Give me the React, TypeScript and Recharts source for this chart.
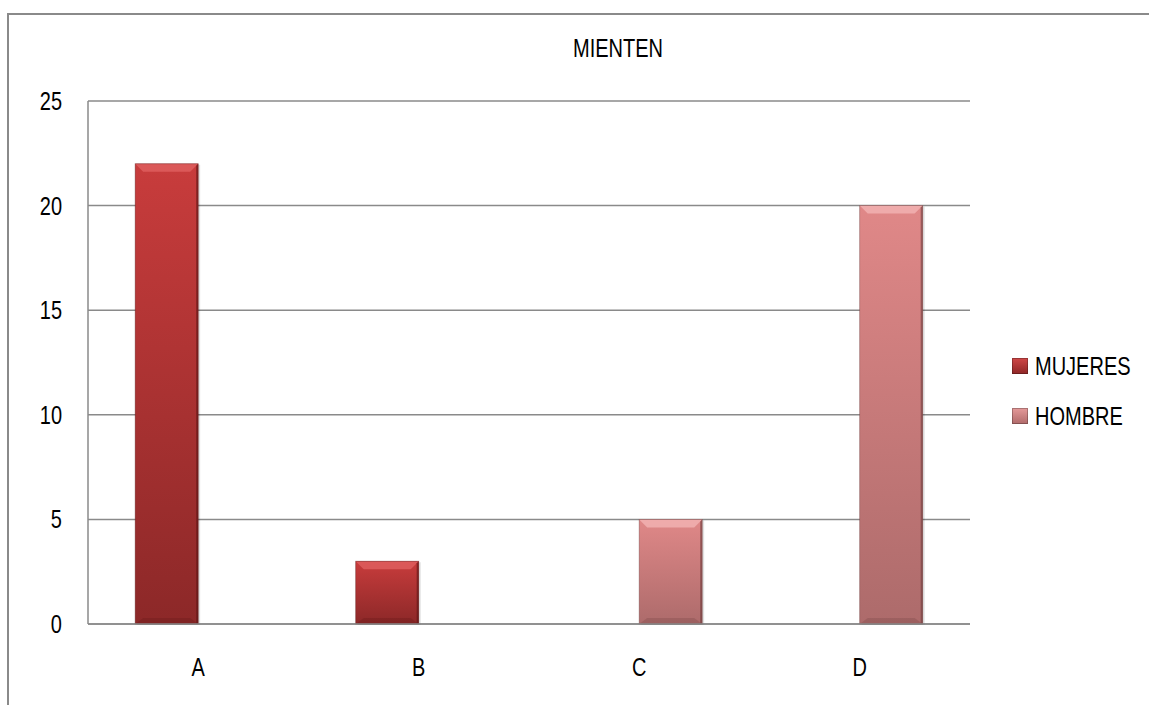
import React from "react";
import { BarChart, Bar, XAxis, YAxis, CartesianGrid } from "recharts";

const categories = ["A", "B", "C", "D"];
const mujeres = [22, 3, 0, 0];
const hombre = [0, 0, 5, 20];
const yTicks = [0, 5, 10, 15, 20, 25];
const seriesNames = ["MUJERES", "HOMBRE"];
const title = "MIENTEN";

const data = categories.map((c, i) => ({ cat: c, mujeres: mujeres[i], hombre: hombre[i] }));

const FONT = "'Liberation Sans', Arial, sans-serif";
const FS = 25;
const SX = 0.8;

const BevelBar = (props: any) => {
  const { x, y, width, height, fill, light, dark } = props;
  if (!height || height <= 0) return null;
  const b = Math.min(8, height / 2, width / 2);
  const bb = Math.min(6, height / 3);
  return (
    <g>
      <rect x={x + 2} y={y + 1} width={width} height={height} fill="rgba(0,0,0,0.12)" />
      <rect x={x} y={y} width={width} height={height} fill={fill} />
      <polygon points={`${x},${y} ${x + width},${y} ${x + width - b},${y + b} ${x + b},${y + b}`} fill={light} opacity={0.8} />
      <polygon points={`${x},${y + height} ${x + width},${y + height} ${x + width - b},${y + height - bb} ${x + b},${y + height - bb}`} fill={dark} opacity={0.25} />
      <polygon points={`${x + width},${y} ${x + width},${y + height} ${x + width - 2},${y + height} ${x + width - 2},${y + 2}`} fill={dark} opacity={0.6} />
      <rect x={x} y={y} width={width} height={height} fill="none" stroke={dark} strokeOpacity={0.5} strokeWidth={0.8} />
    </g>
  );
};

const YTick = (props: any) => {
  const { x, y, payload } = props;
  return (
    <g transform={`translate(${x},${y}) scale(${SX},1)`}>
      <text x={0} y={0} dy="0.36em" textAnchor="end" fill="#000" fontSize={FS} fontFamily={FONT}>{payload.value}</text>
    </g>
  );
};

const XTick = (props: any) => {
  const { x, y, payload } = props;
  return (
    <g transform={`translate(${x},${y}) scale(${SX},1)`}>
      <text x={0} y={0} dy="0.36em" textAnchor="middle" fill="#000" fontSize={FS} fontFamily={FONT}>{payload.value}</text>
    </g>
  );
};

const legendItems = [
  { name: seriesNames[0], top: "#d04848", bot: "#8e2626" },
  { name: seriesNames[1], top: "#e59a9a", bot: "#b06a6a" },
];

export default function App() {
  return (
    <div style={{ position: "absolute", left: 0, top: 0, width: 1149, height: 705, background: "#fff", overflow: "hidden" }}>
      <div style={{ position: "absolute", left: 7, top: 13, width: 1200, height: 800, border: "2px solid #8a8a8a", boxSizing: "border-box" }} />
      <div style={{ position: "absolute", left: 0, top: 34, width: 1236, textAlign: "center", fontFamily: FONT, fontSize: FS, color: "#000", transform: `scaleX(${SX})`, transformOrigin: "618px 0" }}>{title}</div>
      <div style={{ position: "absolute", left: 1012, top: 341, fontFamily: FONT, fontSize: FS, color: "#000" }}>
        {legendItems.map((it, i) => (
          <div key={i} style={{ display: "flex", alignItems: "center", height: 50 }}>
            <div style={{ width: 16, height: 16, background: `linear-gradient(${it.top}, ${it.bot})`, marginRight: 7, boxShadow: "inset 0 0 0 1px rgba(0,0,0,0.25)" }} />
            <span style={{ display: "inline-block", transform: `scaleX(${SX})`, transformOrigin: "0 50%" }}>{it.name}</span>
          </div>
        ))}
      </div>
      <div style={{ position: "absolute", left: 0, top: 0 }}>
        <BarChart width={1149} height={705} data={data} margin={{ top: 101, right: 179, bottom: 51, left: 28 }} barCategoryGap="21.4%" barGap={0}>
          <defs>
            <linearGradient id="gM" x1="0" y1="0" x2="0" y2="1">
              <stop offset="0%" stopColor="#c83c3c" />
              <stop offset="100%" stopColor="#8c2828" />
            </linearGradient>
            <linearGradient id="gH" x1="0" y1="0" x2="0" y2="1">
              <stop offset="0%" stopColor="#e08888" />
              <stop offset="100%" stopColor="#ad6b6b" />
            </linearGradient>
          </defs>
          <CartesianGrid vertical={false} stroke="#8a8a8a" strokeWidth={1.5} />
          <XAxis dataKey="cat" height={30} axisLine={{ stroke: "#8a8a8a", strokeWidth: 1.5 }} tickLine={false} tickSize={0} tickMargin={43} tick={<XTick />} />
          <YAxis domain={[0, 25]} ticks={yTicks} width={60} axisLine={{ stroke: "#8a8a8a", strokeWidth: 1.5 }} tickLine={false} tickSize={0} tickMargin={26} tick={<YTick />} />
          <Bar dataKey="mujeres" name={seriesNames[0]} fill="url(#gM)" isAnimationActive={false} shape={(p: any) => <BevelBar {...p} fill="url(#gM)" light="#e06060" dark="#5a1414" />} />
          <Bar dataKey="hombre" name={seriesNames[1]} fill="url(#gH)" isAnimationActive={false} shape={(p: any) => <BevelBar {...p} fill="url(#gH)" light="#f2b4b4" dark="#6a3a3a" />} />
        </BarChart>
      </div>
    </div>
  );
}
